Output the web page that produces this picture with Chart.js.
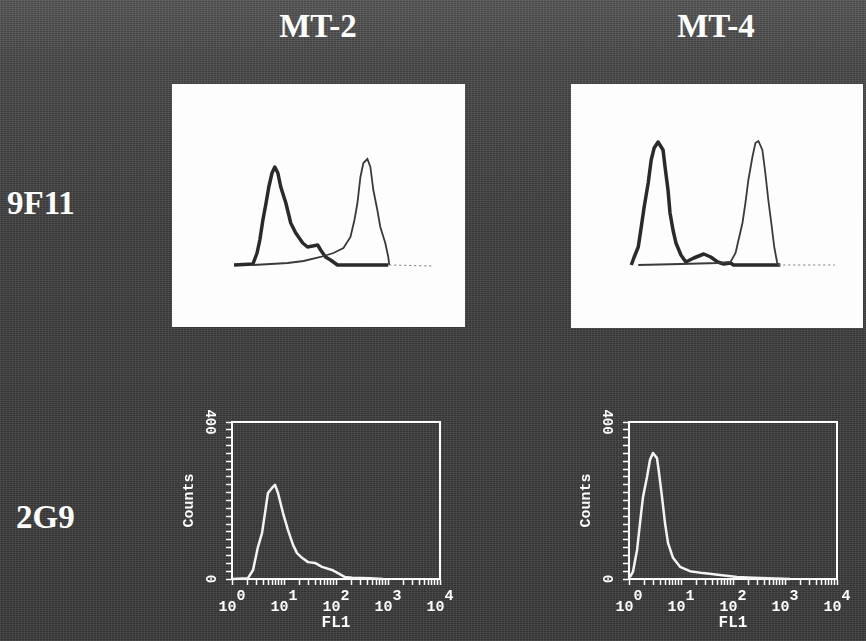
<!DOCTYPE html>
<html>
<head>
<meta charset="utf-8">
<script src="https://cdn.jsdelivr.net/npm/chart.js@4.4.0/dist/chart.umd.min.js"></script>
<style>
    html, body { margin: 0; padding: 0; }
    body {
        width: 866px; height: 641px; position: relative; overflow: hidden;
        background:
            repeating-linear-gradient(180deg, rgba(255,255,255,0.05) 0 1px, rgba(0,0,0,0.10) 1px 2px),
            repeating-linear-gradient(90deg, rgba(255,255,255,0.04) 0 1px, rgba(0,0,0,0.06) 1px 3px),
            linear-gradient(#585858 0%, #4b4b4b 10%, #424242 35%, #3c3c3c 100%);
    }
    .label {
        position: absolute; color: #fff; line-height: 1; white-space: nowrap;
        font: bold 33px 'Liberation Serif', 'DejaVu Serif', serif;
    }
    .box { position: absolute; background: #fdfdfd; }
    canvas { position: absolute; }
</style>
</head>
<body>
<div class="label" id="col0" style="left:318px; top:8px; transform:translateX(-50%)"></div>
<div class="label" id="col1" style="left:716px; top:8px; transform:translateX(-50%)"></div>
<div class="label" id="row0" style="left:7px; top:185px"></div>
<div class="label" id="row1" style="left:16px; top:499px"></div>

<div class="box" style="left:172px; top:84px; width:293px; height:243px"></div>
<div class="box" style="left:571px; top:84px; width:292px; height:244px"></div>

<canvas id="mt2_9f11" width="220" height="140" style="left:223px; top:136px"></canvas>
<canvas id="mt4_9f11" width="225" height="140" style="left:620px; top:135px"></canvas>
<canvas id="mt2_2g9" width="280" height="226" style="left:180px; top:407px"></canvas>
<canvas id="mt4_2g9" width="280" height="226" style="left:577px; top:407px"></canvas>

<script>
// ==========================
// Data
// ==========================
const colLabels = ["MT-2", "MT-4"];
const rowLabels = ["9F11", "2G9"];
const decadeExponents = ["0", "1", "2", "3", "4"];   // x tick labels are 10^n
const countTicks = [0, 400];

// 9F11 row: control (thick) and stained (thin) histograms, relative counts
const mt2_9f11_ctrl_fl1 = [1.0, 2.4, 2.9, 3.3, 3.8, 4.4, 5.0, 5.8, 6.6, 7.6, 8.7, 11, 13.8, 17.4, 24, 30, 38, 48, 55, 69, 87, 120, 1260];
const mt2_9f11_ctrl_counts = [2, 4, 26, 52, 92, 126, 158, 186, 198, 186, 158, 126, 86, 66, 46, 38, 40, 42, 32, 18, 12, 2, 2];
const mt2_9f11_pos_fl1 = [2.4, 5.5, 12, 25, 55, 100, 158, 219, 263, 302, 347, 398, 479, 550, 631, 759, 871, 1096, 1259, 1318, 10000];
const mt2_9f11_pos_counts = [2, 4, 6, 10, 18, 26, 36, 58, 92, 126, 178, 206, 214, 198, 152, 112, 78, 46, 18, 2, 0];

const mt4_9f11_ctrl_fl1 = [1.0, 1.14, 1.37, 1.57, 1.79, 2.15, 2.46, 2.81, 3.36, 4.21, 4.61, 5.27, 5.77, 6.6, 7.55, 9.46, 11.8, 16.9, 26.6, 36.4, 49.9, 65.3, 89.4, 102, 850];
const mt4_9f11_ctrl_counts = [0, 16, 36, 76, 116, 164, 210, 234, 246, 230, 196, 150, 104, 70, 44, 20, 6, 14, 22, 16, 6, 2, 4, 0, 0];
const mt4_9f11_pos_fl1 = [1.37, 9.46, 49.9, 89.4, 112, 128, 153, 175, 200, 240, 275, 315, 377, 431, 493, 564, 645, 738, 773, 10000];
const mt4_9f11_pos_counts = [0, 2, 4, 6, 24, 50, 84, 124, 170, 216, 244, 248, 230, 184, 130, 84, 36, 4, 0, 0];

// 2G9 row: single histogram, Counts vs FL1
const mt2_2g9_fl1 = [1.0, 2.03, 2.54, 3.16, 3.78, 4.31, 4.92, 5.88, 6.71, 7.67, 9.57, 11.9, 14.9, 17.8, 22.2, 29.0, 39.5, 53.8, 83.8, 109, 149, 203, 449, 800];
const mt2_2g9_counts = [0, 2, 23, 82, 117, 168, 219, 232, 240, 219, 168, 125, 87, 66, 54, 43, 41, 31, 23, 15, 5, 3, 2, 0];
const mt4_2g9_fl1 = [1.04, 1.19, 1.43, 1.63, 1.86, 2.22, 2.53, 2.89, 3.45, 3.78, 4.31, 4.92, 5.62, 7.02, 9.57, 14.9, 26.5, 56.2, 119, 243, 1260];
const mt4_2g9_counts = [5, 18, 74, 143, 209, 260, 303, 321, 308, 270, 209, 143, 92, 54, 31, 20, 15, 10, 5, 3, 0];

// ==========================
// Labels
// ==========================
document.getElementById('col0').textContent = colLabels[0];
document.getElementById('col1').textContent = colLabels[1];
document.getElementById('row0').textContent = rowLabels[0];
document.getElementById('row1').textContent = rowLabels[1];

function points(xs, ys) {
    return xs.map((x, i) => ({ x, y: ys[i] }));
}

const monoFamily = "'Liberation Mono', 'DejaVu Sans Mono', monospace";

// ==========================
// 9F11 overlays (no axes)
// ==========================
function overlayChart(id, ctrlX, ctrlY, posX, posY) {
    const last = posX.length - 1;
    new Chart(document.getElementById(id), {
        type: 'line',
        data: {
            datasets: [
                {
                    data: points(posX, posY),
                    borderColor: '#3a3a3a',
                    borderWidth: 1.8,
                    pointRadius: 0,
                    clip: false,
                    segment: {
                        borderDash: ctx => ctx.p1DataIndex === last ? [2, 3] : undefined,
                        borderColor: ctx => ctx.p1DataIndex === last ? '#777' : undefined,
                        borderWidth: ctx => ctx.p1DataIndex === last ? 1 : undefined
                    }
                },
                {
                    data: points(ctrlX, ctrlY),
                    borderColor: '#2a2a2a',
                    borderWidth: 3.5,
                    borderJoinStyle: 'round',
                    pointRadius: 0,
                    clip: false
                }
            ]
        },
        options: {
            responsive: false,
            animation: false,
            layout: { padding: 0 },
            plugins: { legend: { display: false }, tooltip: { enabled: false } },
            scales: {
                x: { type: 'logarithmic', display: false, min: Math.pow(10, -0.2), max: Math.pow(10, 4.2) },
                y: { display: false, min: -20, max: 260 }
            }
        }
    });
}

// ==========================
// 2G9 histograms (with axes)
// ==========================
function histChart(id, xs, ys) {
    new Chart(document.getElementById(id), {
        type: 'line',
        data: {
            datasets: [{
                data: points(xs, ys),
                borderColor: '#f4f4f4',
                borderWidth: 2.5,
                borderJoinStyle: 'round',
                pointRadius: 0,
                clip: false
            }]
        },
        options: {
            responsive: false,
            animation: false,
            layout: { padding: 0 },
            plugins: { legend: { display: false }, tooltip: { enabled: false } },
            scales: {
                x: {
                    type: 'logarithmic', position: 'bottom', min: 1, max: 10000,
                    afterFit: s => { s.height = 54; },
                    afterBuildTicks: s => {
                        // keep 1..9 per decade, drop the 1.5 steps
                        s.ticks = s.ticks.filter(t => {
                            const m = t.value / Math.pow(10, Math.floor(Math.log10(t.value) + 1e-9));
                            return Math.abs(m - Math.round(m)) < 1e-6;
                        });
                    },
                    ticks: {
                        autoSkip: false, minRotation: 0, maxRotation: 0, padding: 6,
                        color: '#fff',
                        font: { family: monoFamily, size: 15, weight: 'bold', lineHeight: '11px' },
                        callback: v => {
                            const e = Math.log10(v);
                            if (Math.abs(e - Math.round(e)) > 1e-9) return '';
                            // exponent raised above and right of the "10"
                            return ['  ' + decadeExponents[Math.round(e)], '10 '];
                        }
                    },
                    grid: { drawOnChartArea: false, color: '#fff', tickLength: 6, tickWidth: 1.5 },
                    border: { color: '#fff', width: 2 },
                    title: { display: true, text: 'FL1', color: '#fff', font: { family: monoFamily, size: 16, weight: 'bold' }, padding: 0 }
                },
                y: {
                    position: 'left', min: 0, max: 400,
                    afterFit: s => { s.width = 52; },
                    ticks: {
                        stepSize: 20, autoSkip: false, minRotation: -90, crossAlign: 'center', padding: 4,
                        color: '#fff', font: { family: monoFamily, size: 14, weight: 'bold' },
                        callback: v => countTicks.includes(v) ? String(v) : ''
                    },
                    grid: { drawOnChartArea: false, color: '#fff', tickLength: 6, tickWidth: 1.5 },
                    border: { color: '#fff', width: 2 },
                    title: { display: true, text: 'Counts', color: '#fff', font: { family: monoFamily, size: 15, weight: 'bold' }, padding: 0 }
                },
                x2: {
                    type: 'linear', position: 'top', min: 0, max: 1,
                    afterFit: s => { s.height = 15; },
                    ticks: { display: false },
                    grid: { drawOnChartArea: false, drawTicks: false },
                    border: { color: '#fff', width: 2 }
                },
                y2: {
                    type: 'linear', position: 'right', min: 0, max: 1,
                    afterFit: s => { s.width = 20; },
                    ticks: { display: false },
                    grid: { drawOnChartArea: false, drawTicks: false },
                    border: { color: '#fff', width: 2 }
                }
            }
        }
    });
}

// ==========================
// On Page Load
// ==========================
overlayChart('mt2_9f11', mt2_9f11_ctrl_fl1, mt2_9f11_ctrl_counts, mt2_9f11_pos_fl1, mt2_9f11_pos_counts);
overlayChart('mt4_9f11', mt4_9f11_ctrl_fl1, mt4_9f11_ctrl_counts, mt4_9f11_pos_fl1, mt4_9f11_pos_counts);
histChart('mt2_2g9', mt2_2g9_fl1, mt2_2g9_counts);
histChart('mt4_2g9', mt4_2g9_fl1, mt4_2g9_counts);
</script>
</body>
</html>
